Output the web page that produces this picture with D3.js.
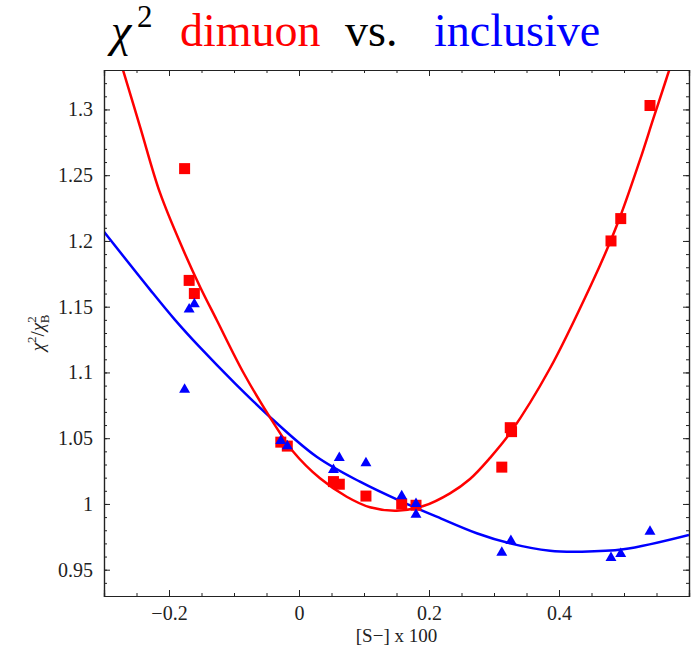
<!DOCTYPE html>
<html lang="en">
  <head>
    <meta charset="UTF-8" />
    <title>chi2 dimuon vs. inclusive</title>
    <script src="https://d3js.org/d3.v7.min.js"></script>
    <style>
      body {
        margin: 0;
        background: #fff;
      }
    </style>
  </head>
  <body>
    <div id="chart"></div>

    <script>
      const serif = '"Liberation Serif", "DejaVu Serif", serif';

      // points: [S-] x 100 against chi2 / chi2_B
      const dimuonX = [-0.176, -0.169, -0.161, -0.028, -0.018, 0.053, 0.062, 0.103, 0.158, 0.18, 0.312, 0.325, 0.327, 0.48, 0.495, 0.54];
      const dimuonY = [1.255, 1.17, 1.16, 1.047, 1.044, 1.017, 1.015, 1.006, 1.0, 0.999, 1.028, 1.058, 1.055, 1.2, 1.217, 1.303];

      const inclusiveX = [-0.176, -0.169, -0.161, -0.028, -0.018, 0.053, 0.062, 0.103, 0.158, 0.18, 0.18, 0.312, 0.326, 0.48, 0.495, 0.54];
      const inclusiveY = [1.087, 1.148, 1.152, 1.048, 1.044, 1.026, 1.035, 1.031, 1.006, 1.0, 0.992, 0.963, 0.972, 0.959, 0.962, 0.979];

      // fitted curves
      const dimuonCurveX = [-0.272, -0.2446, -0.2138, -0.178, -0.1523, -0.1266, -0.0846, -0.042, -0.0088, 0.0323, 0.0734, 0.1092, 0.1503, 0.1912, 0.2323, 0.2631, 0.2938, 0.3262, 0.386, 0.4528, 0.4734, 0.4938, 0.5246, 0.5451, 0.5646, 0.571];
      const dimuonCurveY = [1.332, 1.287, 1.2365, 1.1931, 1.1652, 1.1399, 1.099, 1.0638, 1.0397, 1.0195, 1.0055, 0.9975, 0.9949, 0.9984, 1.0081, 1.019, 1.035, 1.0549, 1.103, 1.1703, 1.1931, 1.218, 1.2616, 1.293, 1.3224, 1.332];

      const inclusiveCurveX = [-0.3, -0.2292, -0.1908, -0.1534, -0.097, -0.0395, 0.0272, 0.0938, 0.158, 0.2118, 0.2734, 0.3246, 0.3862, 0.4323, 0.4989, 0.6];
      const inclusiveCurveY = [1.207, 1.163, 1.14, 1.1196, 1.091, 1.0638, 1.0359, 1.0169, 1.0017, 0.9903, 0.9777, 0.97, 0.9644, 0.9637, 0.9655, 0.9764];

      const xTicks = [-0.2, 0, 0.2, 0.4];
      const yTicks = [0.95, 1, 1.05, 1.1, 1.15, 1.2, 1.25, 1.3];

      const W = 694, H = 647;
      const margin = { top: 70, right: 5, bottom: 51, left: 104 };
      const width = W - margin.left - margin.right;
      const height = H - margin.top - margin.bottom;

      const svg = d3
        .select("#chart")
        .append("svg")
        .attr("width", W)
        .attr("height", H)
        .style("font-family", serif);

      const g = svg
        .append("g")
        .attr("transform", `translate(${margin.left},${margin.top})`);

      const x = d3.scaleLinear().domain([-0.3, 0.6]).range([0, width]);
      const y = d3.scaleLinear().domain([0.93, 1.33]).range([height, 0]);

      // title, each word placed like the original
      const title = svg
        .append("text")
        .attr("y", 46)
        .style("font-family", serif)
        .style("font-size", "46px");
      title.append("tspan").attr("x", 111).style("font-style", "italic").text("χ");
      title.append("tspan").attr("x", 137).attr("dy", -19).style("font-size", "31px").text("2");
      title.append("tspan").attr("x", 180).attr("dy", 19).attr("fill", "red").text("dimuon");
      title.append("tspan").attr("x", 345).attr("fill", "black").text("vs.");
      title.append("tspan").attr("x", 434).attr("fill", "blue").text("inclusive");

      // clip for curves
      svg
        .append("defs")
        .append("clipPath")
        .attr("id", "plot-clip")
        .append("rect")
        .attr("width", width)
        .attr("height", height);

      const line = d3
        .line()
        .x((d) => x(d[0]))
        .y((d) => y(d[1]))
        .curve(d3.curveCatmullRom);

      const curves = g.append("g").attr("clip-path", "url(#plot-clip)");
      curves
        .append("path")
        .datum(inclusiveCurveX.map((v, i) => [v, inclusiveCurveY[i]]))
        .attr("fill", "none")
        .attr("stroke", "blue")
        .attr("stroke-width", 2.5)
        .attr("d", line);
      curves
        .append("path")
        .datum(dimuonCurveX.map((v, i) => [v, dimuonCurveY[i]]))
        .attr("fill", "none")
        .attr("stroke", "red")
        .attr("stroke-width", 2.5)
        .attr("d", line);

      // markers
      const sq = 11;
      g.selectAll(".sq")
        .data(dimuonX.map((v, i) => [v, dimuonY[i]]))
        .enter()
        .append("rect")
        .attr("class", "sq")
        .attr("x", (d) => x(d[0]) - sq / 2)
        .attr("y", (d) => y(d[1]) - sq / 2)
        .attr("width", sq)
        .attr("height", sq)
        .attr("fill", "red");

      const tri = d3.symbol().type(d3.symbolTriangle).size(52);
      g.selectAll(".tri")
        .data(inclusiveX.map((v, i) => [v, inclusiveY[i]]))
        .enter()
        .append("path")
        .attr("class", "tri")
        .attr("transform", (d) => `translate(${x(d[0])},${y(d[1])})`)
        .attr("d", tri)
        .attr("fill", "blue");

      // frame with inward ticks on all four sides
      const xMinor = d3.range(-0.25, 0.6, 0.05).map((v) => +v.toFixed(2));
      const yMinor = d3.range(0.93, 1.331, 0.01).map((v) => +v.toFixed(2));
      const fmt = (d) => (d === 0 ? "0" : d === 1 ? "1" : String(d).replace("-", "−"));

      function addAxis(axisFn, scale, ticks, size, labels, transform) {
        const a = axisFn(scale)
          .tickValues(ticks)
          .tickSize(-size)
          .tickPadding(size + (labels && axisFn === d3.axisLeft ? 5 : 4))
          .tickFormat(labels ? fmt : "");
        const ax = g
          .append("g")
          .attr("transform", transform)
          .call(a)
          .attr("font-family", serif)
          .attr("font-size", 20);
        ax.select(".domain").attr("stroke", "#222").attr("stroke-width", 1.2);
        ax.selectAll(".tick line").attr("stroke", "#222").attr("stroke-width", 1);
        ax.selectAll(".tick text").attr("fill", "#222");
        return ax;
      }

      addAxis(d3.axisBottom, x, xMinor, 3, false, `translate(0,${height})`);
      addAxis(d3.axisBottom, x, xTicks, 6, true, `translate(0,${height})`);
      addAxis(d3.axisTop, x, xMinor, 3, false, "translate(0,0)");
      addAxis(d3.axisTop, x, xTicks, 6, false, "translate(0,0)");
      addAxis(d3.axisLeft, y, yMinor, 3, false, "translate(0,0)");
      addAxis(d3.axisLeft, y, yTicks, 6, true, "translate(0,0)");
      addAxis(d3.axisRight, y, yMinor, 3, false, `translate(${width},0)`);
      addAxis(d3.axisRight, y, yTicks, 6, false, `translate(${width},0)`);

      // axis labels
      g.append("text")
        .attr("x", width / 2)
        .attr("y", height + 46)
        .attr("text-anchor", "middle")
        .style("font-size", "19px")
        .attr("fill", "#222")
        .text("[S−] x 100");

      const yl = g
        .append("text")
        .attr("transform", `translate(-60,${height / 2}) rotate(-90)`)
        .attr("text-anchor", "middle")
        .attr("fill", "#222")
        .style("font-size", "19px");
      yl.append("tspan").style("font-style", "italic").text("χ");
      yl.append("tspan").attr("dy", -8).style("font-size", "13px").text("2");
      yl.append("tspan").attr("dy", 8).text("/");
      yl.append("tspan").style("font-style", "italic").text("χ");
      yl.append("tspan").attr("dy", -8).style("font-size", "13px").text("2");
      yl.append("tspan").attr("dx", -7).attr("dy", 13).style("font-size", "13px").text("B");
    </script>
  </body>
</html>
